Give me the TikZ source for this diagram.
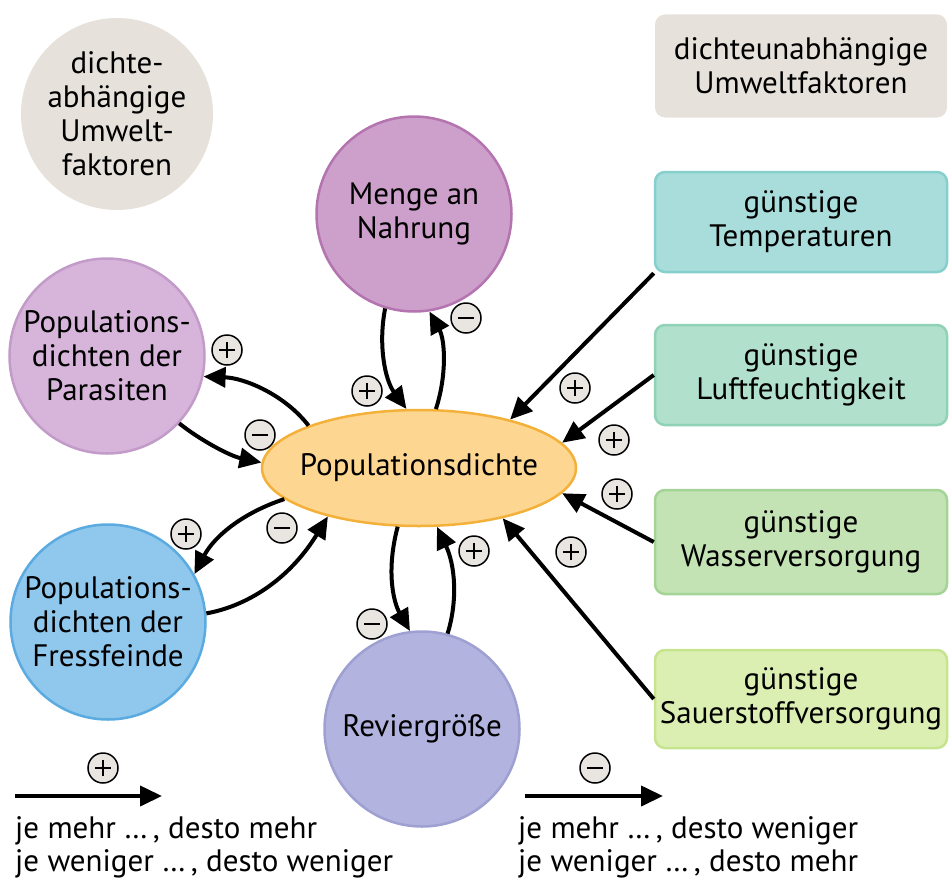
\documentclass[tikz,border=0pt]{standalone}
\usepackage{fontspec}
\setmainfont{PT Sans}
\usetikzlibrary{arrows.meta,shapes.geometric}
\definecolor{beige}{HTML}{E6E1DB}
\definecolor{nahrF}{HTML}{CD9FCB}
\definecolor{nahrD}{HTML}{B474B0}
\definecolor{parF}{HTML}{D7B5DB}
\definecolor{parD}{HTML}{C39BC9}
\definecolor{fresF}{HTML}{8FC8EC}
\definecolor{fresD}{HTML}{5BAAE0}
\definecolor{revF}{HTML}{B2B3DE}
\definecolor{revD}{HTML}{9FA0D2}
\definecolor{pdF}{HTML}{FDD692}
\definecolor{pdD}{HTML}{F4B13A}
\definecolor{tempF}{HTML}{A9DDDC}
\definecolor{tempD}{HTML}{86CFCD}
\definecolor{luftF}{HTML}{B1E0CD}
\definecolor{luftD}{HTML}{8FD2B6}
\definecolor{wasF}{HTML}{C3E3B5}
\definecolor{wasD}{HTML}{A3D496}
\definecolor{sauF}{HTML}{DBEFB3}
\definecolor{sauD}{HTML}{C5E48D}
\definecolor{sgnF}{HTML}{E9E6E2}
\begin{document}
\begin{tikzpicture}[x=1pt,y=-1pt,
  font=\fontsize{31}{34}\selectfont,
  circ/.style={circle, minimum size=195pt, inner sep=0pt, align=center, line width=2.5pt},
  fbox/.style={rectangle, rounded corners=10pt, minimum width=292pt, inner sep=0pt, align=center, line width=2.5pt},
  arr/.style={line width=4pt, -{Triangle[length=22pt,width=20pt]}},
  sgn/.style={circle, minimum size=30pt, inner sep=0pt, fill=sgnF, draw=black, line width=1.5pt},
  sgnminus/.style={sgn, path picture={\draw[line width=2.8pt] (path picture bounding box.center) ++(-8pt,0pt) -- ++(16pt,0pt);}},
  sgnplus/.style={sgn, path picture={\draw[line width=2.8pt] (path picture bounding box.center) ++(-8pt,0pt) -- ++(16pt,0pt); \draw[line width=2.8pt] (path picture bounding box.center) ++(0pt,-8pt) -- ++(0pt,16pt);}}
]
\useasboundingbox (0,0) rectangle (949,883);

% nodes
\node[circ, fill=beige, minimum size=192pt] (dab) at (117,114) {dichte-\\abhängige\\Umwelt-\\faktoren};
\node[fbox, fill=beige, minimum height=103pt] (dun) at (801,66) {dichteunabhängige\\Umweltfaktoren};

\node[circ, fill=nahrF, draw=nahrD] (nahr) at (414,214) {Menge an\\Nahrung};
\node[circ, fill=parF, draw=parD] (par) at (107,356) {Populations-\\dichten der\\Parasiten};
\node[circ, fill=fresF, draw=fresD] (fres) at (108,622) {Populations-\\dichten der\\Fressfeinde};
\node[circ, fill=revF, draw=revD] (rev) at (422,729) {Reviergröße};

\node[ellipse, minimum width=314pt, minimum height=116pt, inner xsep=-70pt, inner ysep=0pt, fill=pdF, draw=pdD, line width=2.5pt] (pd) at (419,468) {Populationsdichte};

\node[fbox, fill=tempF, draw=tempD, minimum height=100pt] (temp) at (801,222) {günstige\\Temperaturen};
\node[fbox, fill=luftF, draw=luftD, minimum height=100pt] (luft) at (801,375) {günstige\\Luftfeuchtigkeit};
\node[fbox, fill=wasF, draw=wasD, minimum height=104pt] (was) at (801,542) {günstige\\Wasserversorgung};
\node[fbox, fill=sauF, draw=sauD, minimum height=98pt] (sau) at (801,699) {günstige\\Sauerstoffversorgung};

% straight arrows from abiotic factors
\draw[arr] (temp.south west) -- (pd.28);
\draw[arr] (luft.west) -- (pd.10);
\draw[arr] (was.west) -- (pd.-10);
\draw[arr] (sau.west) -- (pd.-31);

% curved arrows
\draw[arr] (nahr.253) .. controls (378,345) and (385,380) .. (pd.102);
\draw[arr] (pd.74) .. controls (447,375) and (445,340) .. (nahr.279);

\draw[arr] (pd.159) .. controls (285,395) and (245,378) .. (par.-12);
\draw[arr] (par.-43) .. controls (200,440) and (230,456) .. (pd.178);

\draw[arr] (pd.193) .. controls (245,512) and (215,535) .. (fres.29);
\draw[arr] (fres.5) .. controls (252,605) and (292,575) .. (pd.208);

\draw[arr] (pd.250) .. controls (385,575) and (395,605) .. (rev.97);
\draw[arr] (rev.75) .. controls (458,600) and (455,565) .. (pd.287);

% signs
\node[sgnplus] (s1) at (227,350) {};
\node[sgnminus] (s2) at (260,435) {};
\node[sgnplus] (s3) at (367,391) {};
\node[sgnminus] (s4) at (466,318) {};
\node[sgnplus] (s5) at (186,534) {};
\node[sgnminus] (s6) at (282,528) {};
\node[sgnplus] (s7) at (474,551) {};
\node[sgnminus] (s8) at (372,624) {};
\node[sgnplus] (s9) at (575,388) {};
\node[sgnplus] (s10) at (614,440) {};
\node[sgnplus] (s11) at (617,494) {};
\node[sgnplus] (s12) at (571,552) {};

% legend
\coordinate (la) at (15,796);
\coordinate (lb) at (162,796);
\draw[arr] (la) -- (lb);
\node[sgnplus] (lp) at (103,768) {};
\node[anchor=base west, inner sep=0pt] (lt1) at (15,838) {je mehr …\,, desto mehr};
\node[anchor=base west, inner sep=0pt] (lt2) at (15,871) {je weniger …\,, desto weniger};

\coordinate (ra) at (525,796);
\coordinate (rb) at (663,796);
\draw[arr] (ra) -- (rb);
\node[sgnminus] (rm) at (595,768) {};
\node[anchor=base west, inner sep=0pt] (rt1) at (518,838) {je mehr …\,, desto weniger};
\node[anchor=base west, inner sep=0pt] (rt2) at (518,871) {je weniger …\,, desto mehr};
\end{tikzpicture}
\end{document}
